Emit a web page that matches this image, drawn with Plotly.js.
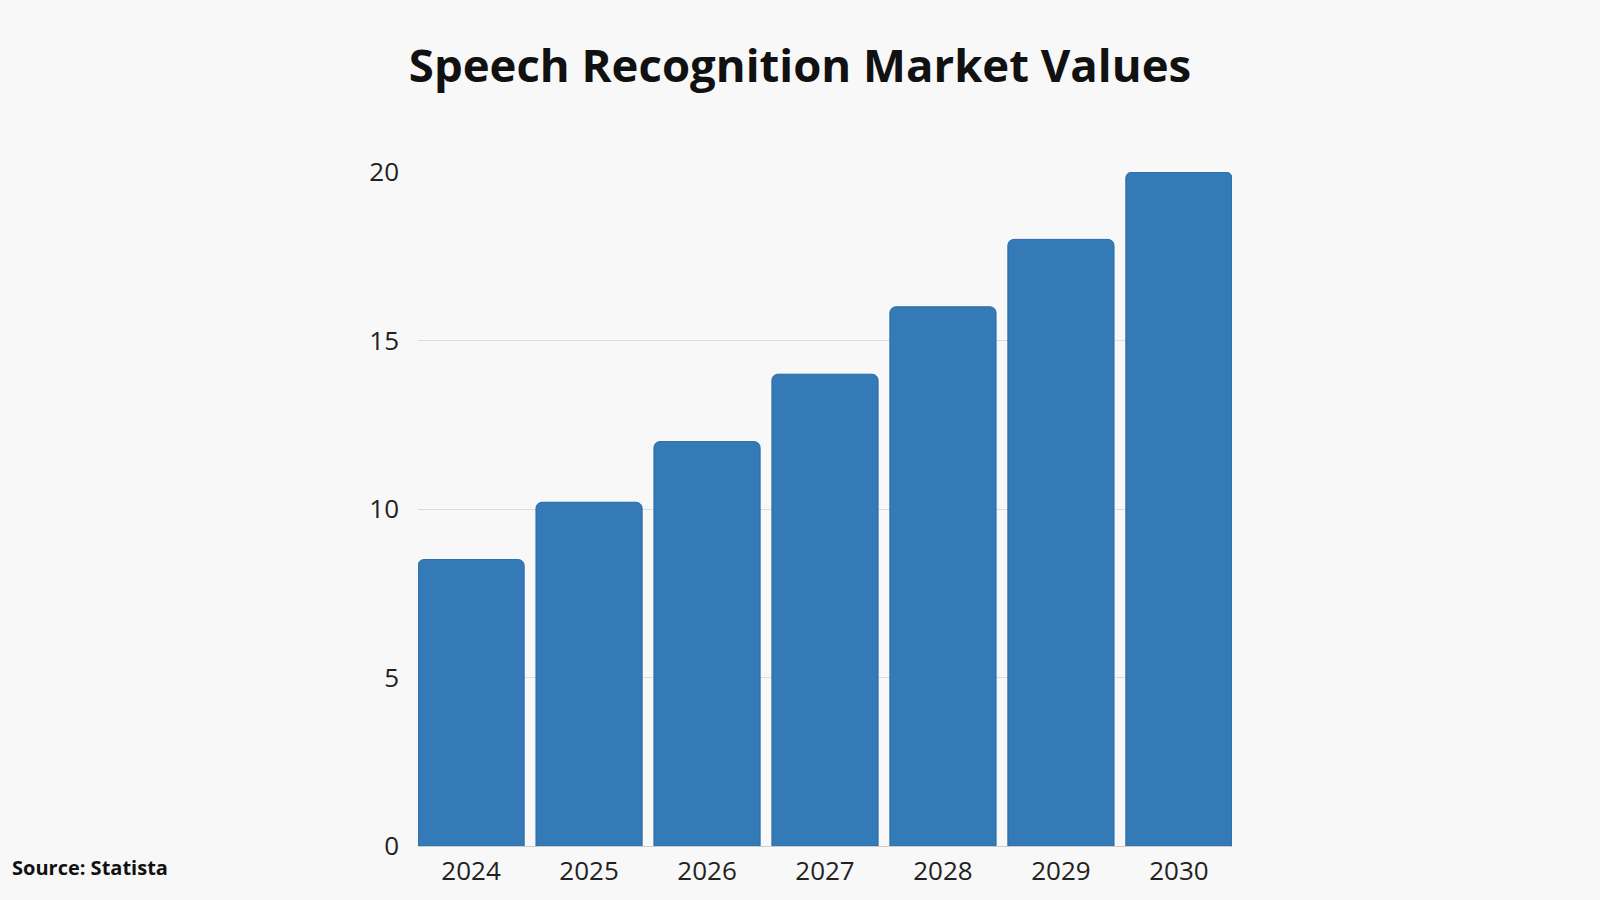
<!DOCTYPE html>
<html>
<head>
<meta charset="utf-8">
<script src="https://cdn.plot.ly/plotly-3.0.1.min.js"></script>
<style>
html,body{margin:0;padding:0;background:#f8f8f8;}
#chart{width:1600px;height:900px;}
</style>
</head>
<body>
<div id="chart"></div>
<script>
const years = ["2024", "2025", "2026", "2027", "2028", "2029", "2030"];
const marketValues = [8.5, 10.2, 12, 14, 16, 18, 20];
const yTickValues = [0, 5, 10, 15, 20];
const chartTitle = "Speech Recognition Market Values";
const sourceText = "Source: Statista";

const trace = {
  type: "bar",
  x: years,
  y: marketValues,
  marker: {
    color: "#337ab7",
    line: {color: "#2a6aa6", width: 1},
    cornerradius: 6
  },
  hoverinfo: "x+y"
};

const layout = {
  width: 1600,
  height: 900,
  paper_bgcolor: "#f8f8f8",
  plot_bgcolor: "#f8f8f8",
  margin: {l: 418, r: 368, t: 172, b: 54},
  bargap: 0.1,
  showlegend: false,
  font: {family: "Open Sans", color: "#222"},
  title: {
    text: "<b>" + chartTitle + "</b>",
    font: {family: "Open Sans", size: 45.5, color: "#111"},
    x: 0.5,
    xanchor: "center",
    y: 0.927,
    yanchor: "middle"
  },
  xaxis: {
    type: "category",
    range: [-0.45, 6.45],
    showgrid: false,
    showline: false,
    ticks: "",
    ticklabelstandoff: 7,
    tickfont: {family: "Open Sans", size: 26, color: "#222"}
  },
  yaxis: {
    range: [0, 20],
    tickvals: yTickValues,
    showgrid: true,
    gridcolor: "#dcdcdc",
    gridwidth: 1,
    zeroline: true,
    zerolinecolor: "#cccccc",
    zerolinewidth: 1,
    showline: false,
    ticks: "",
    ticklabelstandoff: 18,
    tickfont: {family: "Open Sans", size: 26, color: "#222"}
  },
  annotations: [{
    text: "<b>" + sourceText + "</b>",
    xref: "paper",
    yref: "paper",
    x: -0.5011,
    y: -0.0325,
    xanchor: "left",
    yanchor: "middle",
    showarrow: false,
    font: {family: "Open Sans", size: 20, color: "#111"}
  }]
};

Plotly.newPlot("chart", [trace], layout, {displayModeBar: false, staticPlot: true});
</script>
</body>
</html>
